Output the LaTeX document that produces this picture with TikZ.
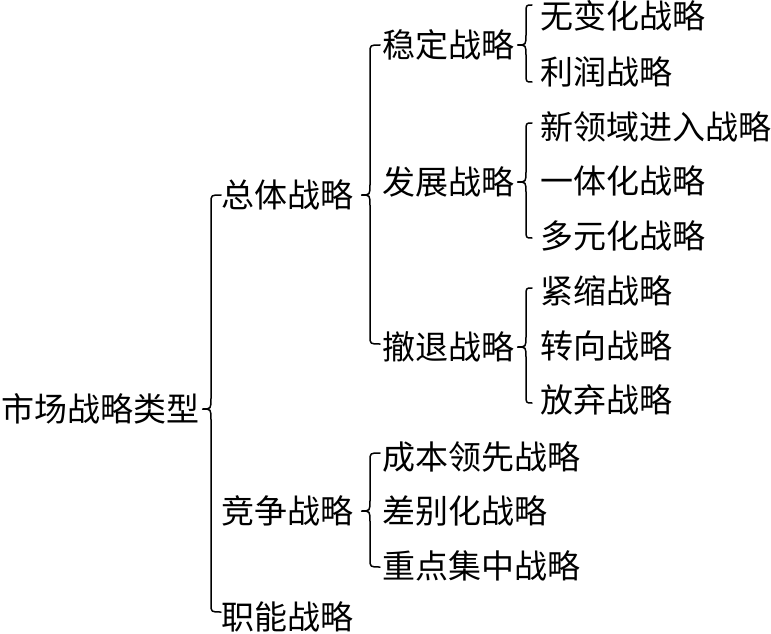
\documentclass[tikz,border=0pt]{standalone}
\usepackage{fontspec}
\setmainfont{Noto Sans CJK SC}
\usetikzlibrary{calc}
% #1 first child, #2 last child, #3 parent, #4 gap to text, #5 hook width,
% #6 extension above first child, #7 extension below last child
\newcommand\mybrace[7]{%
  \draw[brc] let \p1=($(#1.west)+(-#4,-#6)$), \p2=($(#2.west)+(-#4,#7)$),
     \p3=(#3.west), \n1={\x1-#5pt} in
   (\x1,\y1) .. controls (\n1,\y1) .. (\n1,{\y1-8pt})
   -- (\n1,{\y3+11pt}) .. controls (\n1,\y3) .. ({\n1-8.5pt},\y3)
   .. controls (\n1,\y3) .. (\n1,{\y3-11pt})
   -- (\n1,{\y2+8pt}) .. controls (\n1,\y2) .. (\x2,\y2);
}
\begin{document}
\begin{tikzpicture}[x=1pt,y=-1pt,
  lbl/.style={anchor=west,inner sep=0pt,font=\fontsize{33}{33}\selectfont},
  brc/.style={line width=1.5pt,line cap=round,line join=round}]
\useasboundingbox (0,0) rectangle (771,634);
\node[lbl] (root) at (1,409) {市场战略类型};
\node[lbl] (zt) at (221,195) {总体战略};
\node[lbl] (jz) at (221,511) {竞争战略};
\node[lbl] (zn) at (221,617) {职能战略};
\node[lbl] (wd) at (382,45) {稳定战略};
\node[lbl] (fz) at (382,182) {发展战略};
\node[lbl] (ct) at (382,347) {撤退战略};
\node[lbl] (a1) at (540,16) {无变化战略};
\node[lbl] (a2) at (540,72) {利润战略};
\node[lbl] (b1) at (540,127) {新领域进入战略};
\node[lbl] (b2) at (540,181) {一体化战略};
\node[lbl] (b3) at (540,236) {多元化战略};
\node[lbl] (c1) at (540,291) {紧缩战略};
\node[lbl] (c2) at (540,346) {转向战略};
\node[lbl] (c3) at (540,400) {放弃战略};
\node[lbl] (d1) at (382,457) {成本领先战略};
\node[lbl] (d2) at (382,511) {差别化战略};
\node[lbl] (d3) at (382,566) {重点集中战略};
\mybrace{zt}{zn}{root}{0}{10}{0}{-5}
\mybrace{wd}{ct}{zt}{2}{10}{0}{-3}
\mybrace{d1}{d3}{jz}{2}{10}{4}{1}
\mybrace{a1}{a2}{wd}{8}{6}{11}{10}
\mybrace{b1}{b3}{fz}{8}{6}{4}{2}
\mybrace{c1}{c3}{ct}{8}{6}{3}{3}
\end{tikzpicture}
\end{document}
